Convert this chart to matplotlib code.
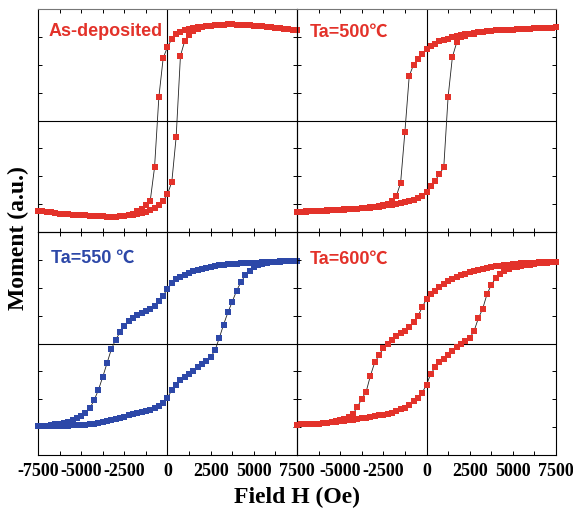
import matplotlib
matplotlib.use('Agg')
import matplotlib.pyplot as plt
from matplotlib.ticker import MultipleLocator

# Field values (Oe), shared by all loops
H = [-7500, -7250, -7000, -6750, -6500, -6250, -6000, -5750, -5500, -5250,
     -5000, -4750, -4500, -4250, -4000, -3750, -3500, -3250, -3000, -2750,
     -2500, -2250, -2000, -1750, -1500, -1250, -1000, -750, -500, -250,
     0, 250, 500, 750, 1000, 1250, 1500, 1750, 2000, 2250,
     2500, 2750, 3000, 3250, 3500, 3750, 4000, 4250, 4500, 4750,
     5000, 5250, 5500, 5750, 6000, 6250, 6500, 6750, 7000, 7250,
     7500]

# As-deposited
m_asdep_down = [-0.810, -0.815, -0.820, -0.825, -0.830, -0.835, -0.838, -0.841, -0.844, -0.847,
                -0.850, -0.852, -0.854, -0.856, -0.858, -0.860, -0.862, -0.863, -0.862, -0.860,
                -0.855, -0.848, -0.835, -0.815, -0.790, -0.755, -0.720, -0.420, 0.210, 0.560,
                0.660, 0.730, 0.775, 0.795, 0.808, 0.818, 0.828, 0.836, 0.843, 0.848,
                0.852, 0.855, 0.858, 0.860, 0.861, 0.861, 0.860, 0.858, 0.856, 0.853,
                0.850, 0.847, 0.844, 0.840, 0.836, 0.832, 0.828, 0.824, 0.820, 0.815,
                0.810]
m_asdep_up = [-0.810, -0.815, -0.820, -0.825, -0.830, -0.835, -0.838, -0.841, -0.844, -0.847,
              -0.850, -0.852, -0.854, -0.856, -0.858, -0.860, -0.862, -0.863, -0.862, -0.860,
              -0.857, -0.852, -0.846, -0.838, -0.830, -0.818, -0.805, -0.785, -0.760, -0.720,
              -0.660, -0.550, -0.150, 0.580, 0.715, 0.770, 0.800, 0.820, 0.835, 0.845,
              0.852, 0.855, 0.858, 0.860, 0.861, 0.861, 0.860, 0.858, 0.856, 0.853,
              0.850, 0.847, 0.844, 0.840, 0.836, 0.832, 0.828, 0.824, 0.820, 0.815,
              0.810]

# Ta = 500 C
m_500_down = [-0.820, -0.818, -0.816, -0.814, -0.812, -0.810, -0.808, -0.806, -0.804, -0.802,
              -0.800, -0.798, -0.796, -0.793, -0.790, -0.787, -0.783, -0.779, -0.774, -0.768,
              -0.760, -0.745, -0.720, -0.680, -0.560, -0.100, 0.400, 0.500, 0.555, 0.600,
              0.645, 0.670, 0.690, 0.710, 0.725, 0.735, 0.748, 0.758, 0.765, 0.772,
              0.778, 0.783, 0.790, 0.795, 0.800, 0.805, 0.808, 0.810, 0.812, 0.814,
              0.816, 0.818, 0.820, 0.822, 0.824, 0.826, 0.828, 0.830, 0.832, 0.834,
              0.835]
m_500_up = [-0.822, -0.820, -0.818, -0.816, -0.814, -0.812, -0.810, -0.808, -0.806, -0.804,
            -0.802, -0.800, -0.798, -0.795, -0.792, -0.789, -0.785, -0.781, -0.777, -0.772,
            -0.767, -0.762, -0.757, -0.750, -0.743, -0.735, -0.725, -0.712, -0.698, -0.680,
            -0.645, -0.590, -0.540, -0.480, -0.420, 0.210, 0.570, 0.700, 0.745, 0.762,
            0.772, 0.780, 0.790, 0.795, 0.800, 0.805, 0.808, 0.810, 0.812, 0.814,
            0.816, 0.818, 0.820, 0.822, 0.824, 0.826, 0.828, 0.830, 0.832, 0.834,
            0.835]

# Ta = 550 C
m_550_down = [-0.743, -0.740, -0.737, -0.731, -0.725, -0.718, -0.712, -0.703, -0.686, -0.668,
              -0.647, -0.620, -0.580, -0.510, -0.415, -0.300, -0.175, -0.050, 0.035, 0.100,
              0.155, 0.198, 0.232, 0.252, 0.270, 0.290, 0.310, 0.340, 0.378, 0.430,
              0.490, 0.540, 0.575, 0.600, 0.615, 0.630, 0.648, 0.660, 0.672, 0.680,
              0.690, 0.698, 0.703, 0.707, 0.710, 0.713, 0.716, 0.718, 0.720, 0.722,
              0.724, 0.726, 0.728, 0.730, 0.732, 0.734, 0.735, 0.737, 0.738, 0.739,
              0.740]
m_550_up = [-0.743, -0.742, -0.741, -0.740, -0.739, -0.738, -0.737, -0.736, -0.735, -0.733,
            -0.731, -0.728, -0.724, -0.718, -0.710, -0.702, -0.693, -0.684, -0.674, -0.665,
            -0.655, -0.645, -0.634, -0.624, -0.614, -0.604, -0.592, -0.578, -0.560, -0.534,
            -0.485, -0.420, -0.370, -0.330, -0.300, -0.272, -0.244, -0.215, -0.185, -0.156,
            -0.120, -0.062, 0.050, 0.170, 0.280, 0.375, 0.473, 0.550, 0.610, 0.650,
            0.682, 0.703, 0.716, 0.725, 0.730, 0.733, 0.736, 0.737, 0.738, 0.739,
            0.740]

# Ta = 600 C
m_600_down = [-0.728, -0.726, -0.724, -0.722, -0.720, -0.718, -0.715, -0.712, -0.706, -0.699,
              -0.690, -0.680, -0.662, -0.628, -0.570, -0.495, -0.435, -0.290, -0.170, -0.107,
              -0.040, 0.000, 0.032, 0.068, 0.093, 0.113, 0.145, 0.195, 0.245, 0.325,
              0.400, 0.440, 0.475, 0.505, 0.530, 0.558, 0.580, 0.598, 0.613, 0.627,
              0.638, 0.646, 0.658, 0.670, 0.680, 0.685, 0.691, 0.697, 0.702, 0.706,
              0.710, 0.714, 0.718, 0.720, 0.723, 0.726, 0.728, 0.730, 0.731, 0.733,
              0.734]
m_600_up = [-0.728, -0.726, -0.724, -0.722, -0.720, -0.718, -0.715, -0.712, -0.708, -0.704,
            -0.699, -0.695, -0.690, -0.684, -0.678, -0.672, -0.666, -0.660, -0.653, -0.645,
            -0.637, -0.629, -0.620, -0.605, -0.590, -0.575, -0.550, -0.520, -0.485, -0.440,
            -0.370, -0.270, -0.215, -0.170, -0.135, -0.104, -0.070, -0.035, -0.005, 0.022,
            0.048, 0.110, 0.225, 0.310, 0.440, 0.525, 0.585, 0.620, 0.647, 0.667,
            0.682, 0.690, 0.697, 0.703, 0.708, 0.713, 0.718, 0.722, 0.726, 0.730,
            0.734]

panel_labels = ['As-deposited', 'Ta=500\u2103', 'Ta=550 \u2103', 'Ta=600\u2103']
xtick_values = [-7500, -5000, -2500, 0, 2500, 5000, 7500]
xtick_labels = ['-7500', '-5000', '-2500', '0', '2500', '5000', '7500']

RED = '#E3322A'
BLUE = '#2D48A8'

panels = [
    (m_asdep_down, m_asdep_up, RED, panel_labels[0], (0.040, 0.903)),
    (m_500_down, m_500_up, RED, panel_labels[1], (0.048, 0.898)),
    (m_550_down, m_550_up, BLUE, panel_labels[2], (0.052, 0.886)),
    (m_600_down, m_600_up, RED, panel_labels[3], (0.048, 0.883)),
]

fig = plt.figure(figsize=(5.73, 5.10), dpi=100)
gs = fig.add_gridspec(2, 2, left=38/573, right=556/573, top=1-10/510,
                      bottom=1-456/510, wspace=0, hspace=0)

for k, (down, up, col, lab, tpos) in enumerate(panels):
    r, c = divmod(k, 2)
    ax = fig.add_subplot(gs[r, c])
    ax.set_facecolor('none')
    ax.set_xlim(-7500, 7500)
    ax.set_ylim(-1, 1)
    ax.axhline(0, color='k', lw=0.8, zorder=1)
    ax.axvline(0, color='k', lw=0.8, zorder=1)
    for m in (down, up):
        ax.plot(H, m, color='#222222', lw=0.6, zorder=2)
        ax.plot(H, m, ls='none', marker='s', ms=3.8, mew=0, color=col,
                zorder=3, clip_on=False)
    ax.xaxis.set_major_locator(MultipleLocator(2500))
    ax.xaxis.set_minor_locator(MultipleLocator(1250))
    ax.yaxis.set_major_locator(MultipleLocator(0.25))
    ax.tick_params(which='both', direction='in', top=True, right=True,
                   length=3.2, width=0.7, labelleft=False)
    for s in ax.spines.values():
        s.set_linewidth(0.8)
    if r == 0:
        ax.tick_params(labelbottom=False)
        ax.spines['top'].set_color('#777777')
    else:
        labs = list(xtick_labels)
        if c == 1:
            labs[0] = ''
        ax.set_xticks(xtick_values)
        ax.set_xticklabels(labs, fontfamily='Liberation Serif',
                           fontweight='bold', fontsize=13)
        ax.tick_params(axis='x', pad=5)
    ax.text(tpos[0], tpos[1], lab, transform=ax.transAxes, color=col,
            fontsize=13, fontweight='bold', va='center', ha='left',
            family=['Liberation Sans', 'Noto Sans CJK SC', 'DejaVu Sans'])

fig.text(297/573, 1-497/510, 'Field H (Oe)', ha='center', va='center',
         fontfamily='Liberation Serif', fontweight='bold', fontsize=17)
fig.text(18/573, 1-238/510, 'Moment (a.u.)', ha='center', va='center',
         rotation=90, fontfamily='Liberation Serif', fontweight='bold',
         fontsize=17)

fig.savefig('out.png', dpi=100)
